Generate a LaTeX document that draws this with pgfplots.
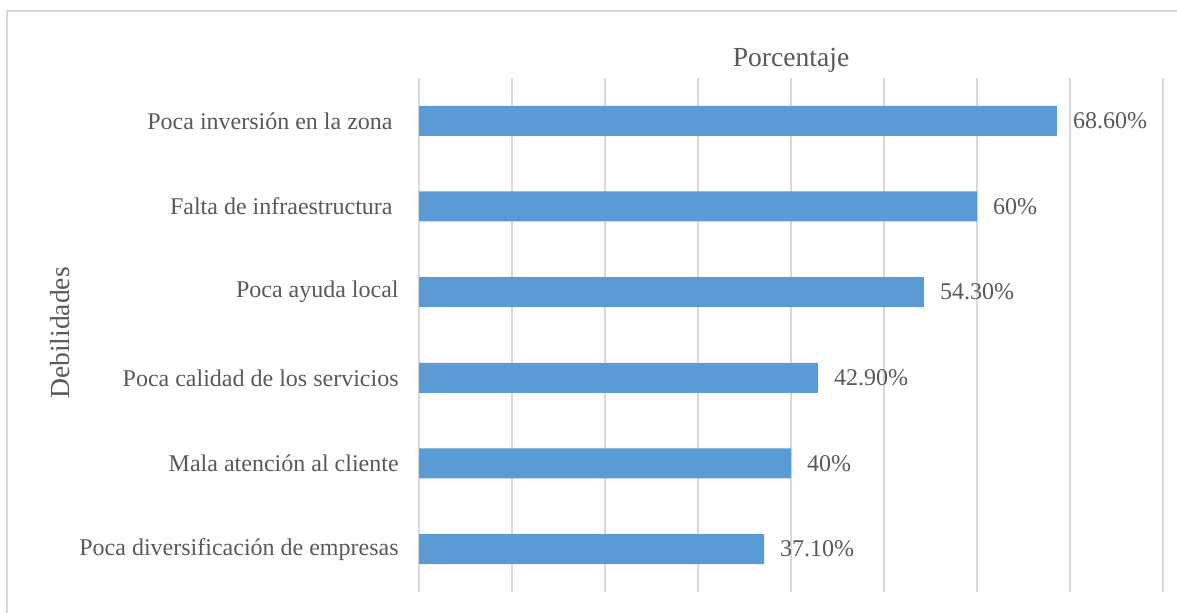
\documentclass[border=0pt]{standalone}
\usepackage{pgfplots}
\pgfplotsset{compat=1.18}
\usepackage{fontspec}
\setmainfont{Liberation Serif}
\definecolor{barblue}{HTML}{5B9BD5}
\definecolor{gridgray}{HTML}{D9D9D9}
\definecolor{txtgray}{HTML}{595959}
\newcommand{\lbl}{\fontsize{12pt}{14pt}\selectfont}
\newcommand{\ttl}{\fontsize{13.8pt}{16pt}\selectfont}
\begin{document}
\begin{tikzpicture}
\useasboundingbox (0,0) rectangle (588.5pt,306.5pt);
\draw[gridgray, line width=0.75pt] (3.5pt,0) -- (3.5pt,301pt) -- (588.5pt,301pt);
\begin{axis}[
  at={(209.5pt,10.5pt)}, anchor=south west,
  scale only axis, width=372pt, height=257pt,
  xbar, bar width=15pt,
  xmin=0, xmax=80, ymin=-0.5, ymax=5.5,
  xtick={0,10,...,80}, xticklabels={},
  xmajorgrids, major grid style={gridgray, line width=0.6pt},
  axis line style={draw=none},
  ytick={0,...,5},
  yticklabels={Poca diversificación de empresas, Mala atención al cliente, Poca calidad de los servicios, Poca ayuda local, Falta de infraestructura\rule{3pt}{0pt}, Poca inversión en la zona\rule{3pt}{0pt}},
  major tick length=0pt,
  yticklabel style={font=\lbl, text=txtgray, inner sep=0pt, xshift=-10pt},
  nodes near coords, point meta=explicit symbolic,
  nodes near coords style={font=\lbl, text=txtgray, anchor=west, xshift=4.5pt},
  clip=false,
]
\addplot[fill=barblue, draw=none] coordinates {
(37.1,0) [37.10\%]
(40,1) [40\%]
(42.9,2) [42.90\%]
(54.3,3) [54.30\%]
(60,4) [60\%]
(68.6,5) [68.60\%]
};
\end{axis}
\node[rotate=90, text=txtgray, font=\ttl] at (30pt,140pt) {Debilidades};
\node[text=txtgray, font=\ttl] at (395.5pt,276.5pt) {Porcentaje};
\end{tikzpicture}
\end{document}
